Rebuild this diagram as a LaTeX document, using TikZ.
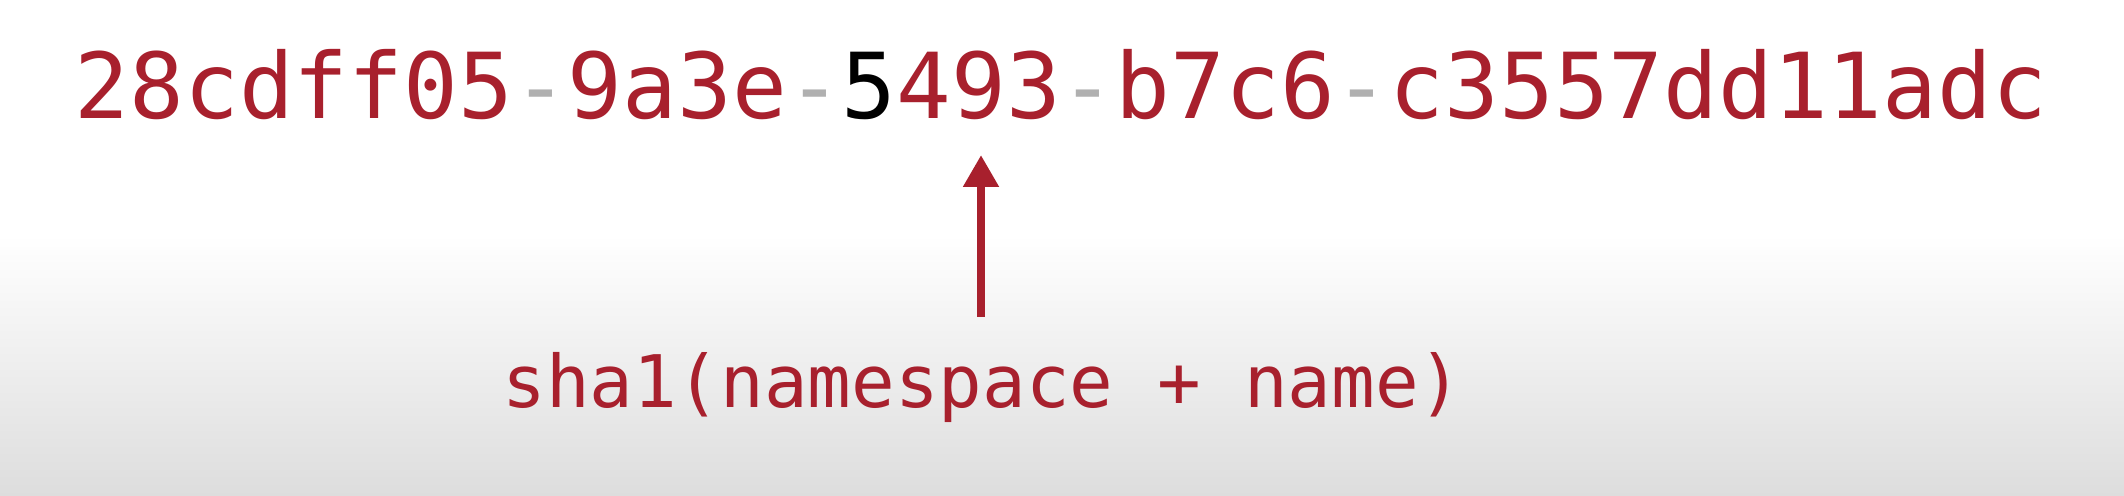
\documentclass[tikz,border=0pt]{standalone}
\usepackage{fontspec}
\usetikzlibrary{arrows.meta}
\newfontfamily\uuidmono{DejaVu Sans Mono}
\definecolor{uuidred}{RGB}{168,32,45}
\definecolor{dashgray}{RGB}{176,176,176}
\definecolor{bgbottom}{RGB}{221,221,221}
\tikzset{
  uuidtext/.style={inner sep=0pt, anchor=base, text=uuidred, font=\uuidmono\fontsize{91bp}{100bp}\selectfont},
  labeltext/.style={inner sep=0pt, anchor=base, text=uuidred, font=\uuidmono\fontsize{72.5bp}{80bp}\selectfont},
  pointer/.style={draw=uuidred, line width=8bp, -{Triangle[width=34bp,length=32bp]}}
}
\newcommand{\dsh}{\textcolor{dashgray}{-}}
\begin{document}
\begin{tikzpicture}[x=1bp,y=-1bp]
  \useasboundingbox (0,0) rectangle (2124,496);
  \fill[white] (0,0) rectangle (2124,496);
  \shade[top color=white, bottom color=bgbottom] (0,235) rectangle (2124,496);
  \node[uuidtext] (uuid) at (1061,119) {28cdff05\dsh 9a3e\dsh\textcolor{black}{5}493\dsh b7c6\dsh c3557dd11adc};
  \node[labeltext] (label) at (982.5,407) {sha1(namespace + name)};
  \coordinate (tail) at (981,317);
  \coordinate (tip) at (981,155);
  \draw[pointer] (tail) -- (tip);
\end{tikzpicture}
\end{document}
